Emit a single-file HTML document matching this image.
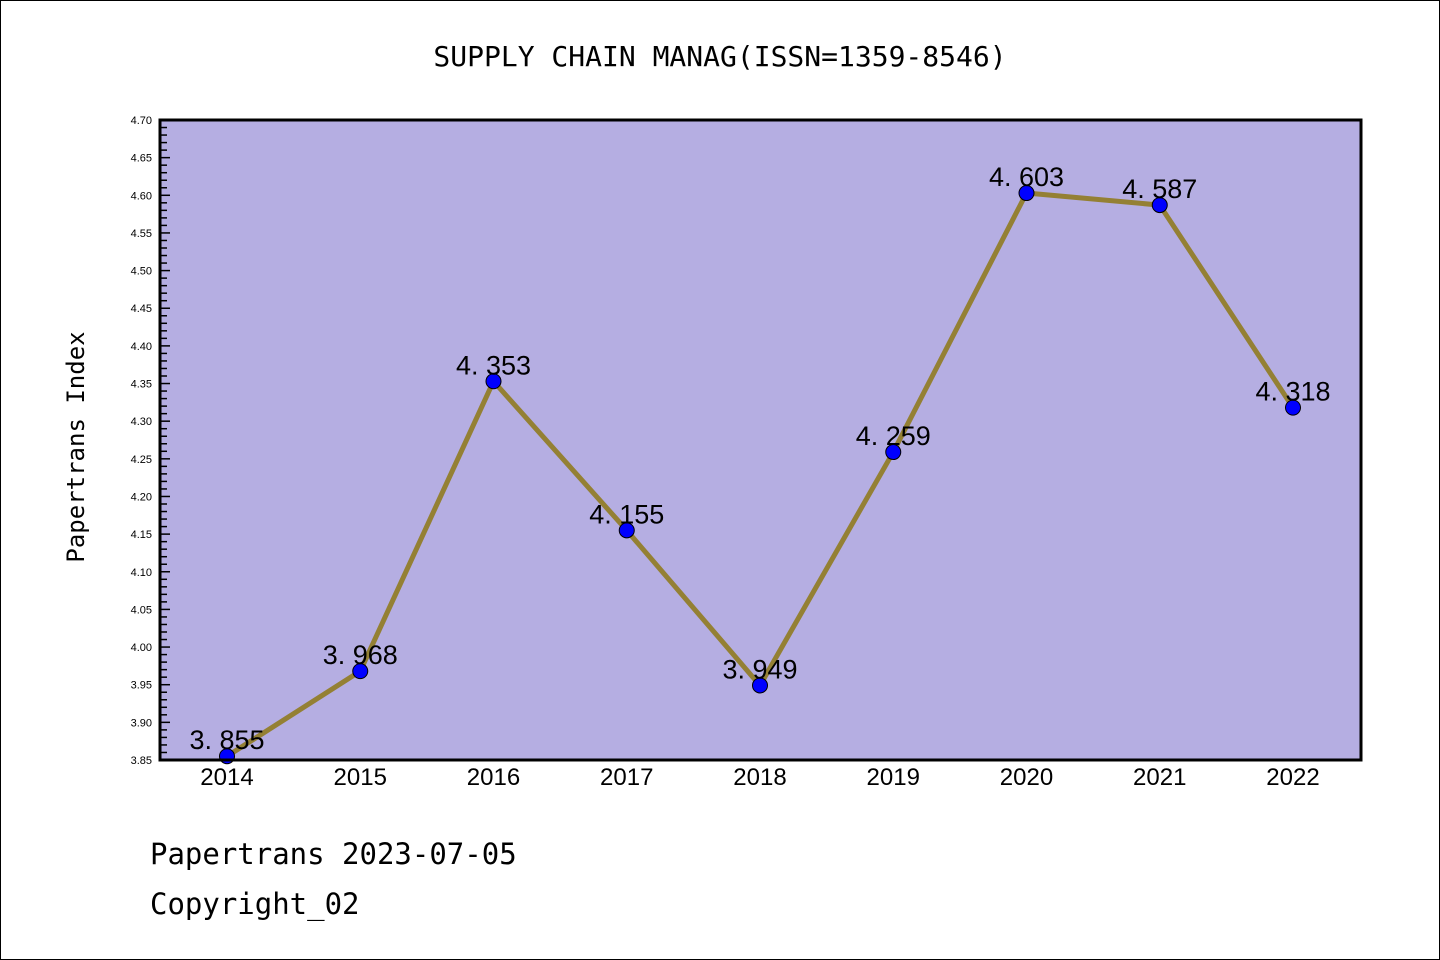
<!DOCTYPE html>
<html><head><meta charset="utf-8"><style>
body{margin:0;background:#fff}
svg{display:block}
text{font-family:"Liberation Sans","DejaVu Sans",sans-serif}
.mono{font-family:"DejaVu Sans Mono","Liberation Mono",monospace}
</style></head><body>
<svg id="c" width="1440" height="960">
<rect x="0.5" y="0.5" width="1439" height="959" fill="#fff" stroke="#000"/>
<text class="mono" x="720" y="66" font-size="28" text-anchor="middle">SUPPLY CHAIN MANAG(ISSN=1359-8546)</text>
<rect x="160" y="120" width="1201" height="640" fill="#b5aee2"/>
<g id="yt"></g>
<g id="xt"></g>
<g id="series"></g>
<rect x="160" y="120" width="1201" height="640" fill="none" stroke="#000" stroke-width="3"/>
<text class="mono" x="84" y="447" font-size="24" text-anchor="middle" transform="rotate(-90 84 447)">Papertrans Index</text>
<text class="mono" x="150" y="864" font-size="29">Papertrans 2023-07-05</text>
<text class="mono" x="150" y="914" font-size="29">Copyright_02</text>
</svg>
<script>
const years=["2014","2015","2016","2017","2018","2019","2020","2021","2022"];
const values=[3.855,3.968,4.353,4.155,3.949,4.259,4.603,4.587,4.318];
const labels=["3. 855","3. 968","4. 353","4. 155","3. 949","4. 259","4. 603","4. 587","4. 318"];
const yMin=3.85,yMax=4.70;
const NS="http://www.w3.org/2000/svg";
const X=i=>227+i*(1293-227)/(years.length-1);
const Y=v=>120+(yMax-v)/(yMax-yMin)*640;
function mk(t,a,p,txt){const e=document.createElementNS(NS,t);for(const k in a)e.setAttribute(k,a[k]);if(txt!=null)e.textContent=txt;p.appendChild(e);return e;}
const yt=document.getElementById('yt');
for(let k=0;k<=85;k++){const v=yMin+k*0.01;const y=Y(v);const major=k%5===0;
 const l=mk('line',{x1:160,x2:major?170:167,y1:y,y2:y,stroke:'#000','stroke-width':1.5},yt);
 
 
 if(major){const t=mk('text',{x:152,y:y+4,'font-size':11,'text-anchor':'end'},yt,v.toFixed(2));
 
 }}
const xt=document.getElementById('xt');
years.forEach((yr,i)=>{const t=mk('text',{x:X(i),y:785,'font-size':24,'text-anchor':'middle'},xt,yr);
 
 });
const s=document.getElementById('series');
const pl=mk('polyline',{points:values.map((v,i)=>X(i)+','+Y(v)).join(' '),fill:'none',stroke:'#948034','stroke-width':5,'stroke-linejoin':'round'},s);


values.forEach((v,i)=>{const c=mk('circle',{cx:X(i),cy:Y(v),r:7.5,fill:'#0000ff',stroke:'#000','stroke-width':1},s);
 
 
 const t=mk('text',{x:X(i),y:Y(v)-7,'font-size':27,'text-anchor':'middle'},s,labels[i]);
 
 });
</script>
</body></html>
